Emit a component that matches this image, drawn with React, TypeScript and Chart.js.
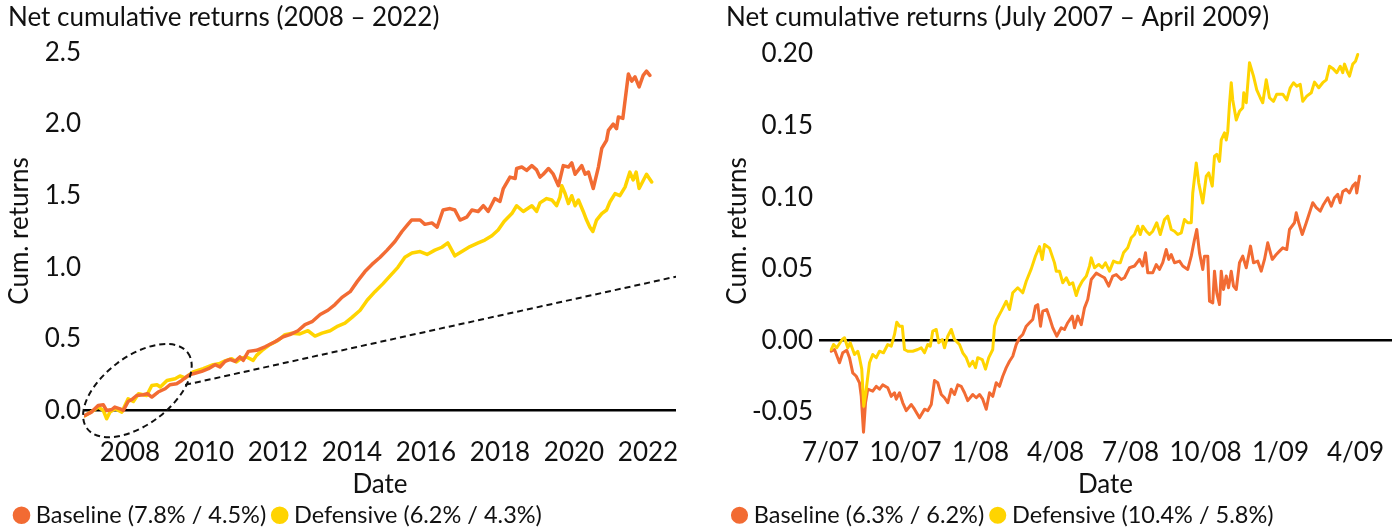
import { useEffect, useRef } from 'react';
import { Chart, registerables } from 'chart.js';

Chart.register(...registerables);

const FONT = 'Lato, "Liberation Sans", sans-serif';
const TEXT = '#111111';
const ORANGE = '#F26B33';
const YELLOW = '#FFD400';

// ---------------- Left chart (2008 – 2022) ----------------
const leftTitle = 'Net cumulative returns (2008 – 2022)';
const leftLegend = ['Baseline (7.8% / 4.5%)', 'Defensive (6.2% / 4.3%)'];
const leftYearTicks = [2008, 2010, 2012, 2014, 2016, 2018, 2020, 2022];
const leftValueTicks = [0, 0.5, 1, 1.5, 2, 2.5];

const leftBaselineYears = [
  2006.78, 2006.96, 2007.14, 2007.28, 2007.37, 2007.51, 2007.59, 2007.73, 2007.82, 2007.95,
  2008.05, 2008.18, 2008.36, 2008.47, 2008.59, 2008.76, 2008.95, 2009.08, 2009.26, 2009.4,
  2009.58, 2009.71, 2009.94, 2010.12, 2010.3, 2010.43, 2010.57, 2010.7, 2010.84, 2010.97,
  2011.06, 2011.2, 2011.42, 2011.65, 2011.92, 2012.14, 2012.32, 2012.54, 2012.73, 2012.92,
  2013.14, 2013.35, 2013.54, 2013.73, 2013.95, 2014.14, 2014.35, 2014.54, 2014.76, 2014.95,
  2015.16, 2015.35, 2015.51, 2015.61, 2015.84, 2015.97, 2016.16, 2016.3, 2016.46, 2016.65,
  2016.78, 2016.92, 2017.1, 2017.24, 2017.41, 2017.55, 2017.68, 2017.86, 2018.0, 2018.09,
  2018.27, 2018.41, 2018.45, 2018.59, 2018.72, 2018.86, 2018.99, 2019.08, 2019.17, 2019.31,
  2019.44, 2019.58, 2019.71, 2019.85, 2019.94, 2020.03, 2020.21, 2020.3, 2020.39, 2020.52,
  2020.66, 2020.75, 2020.88, 2020.93, 2021.06, 2021.15, 2021.2, 2021.32, 2021.47, 2021.56,
  2021.65, 2021.76, 2021.87, 2021.96, 2022.05,
];
const leftBaselineValues = [
  -0.035, -0.011, 0.035, 0.04, 0.0, 0.007, 0.024, 0.012, 0.0, 0.063,
  0.077, 0.105, 0.11, 0.117, 0.094, 0.129, 0.152, 0.18, 0.187, 0.21,
  0.245, 0.257, 0.273, 0.292, 0.32, 0.304, 0.343, 0.357, 0.343, 0.374,
  0.35, 0.413, 0.42, 0.445, 0.48, 0.515, 0.53, 0.557, 0.6, 0.62,
  0.67, 0.7, 0.74, 0.79, 0.83, 0.9, 0.97, 1.02, 1.07, 1.12,
  1.18, 1.25, 1.3, 1.33, 1.33, 1.3, 1.31, 1.28, 1.4, 1.41,
  1.4, 1.33, 1.35, 1.4, 1.39, 1.43, 1.39, 1.48, 1.46, 1.55,
  1.63, 1.62, 1.69, 1.7, 1.677, 1.71, 1.68, 1.63, 1.65, 1.69,
  1.65, 1.57, 1.71, 1.7, 1.73, 1.65, 1.71, 1.65, 1.665, 1.55,
  1.7, 1.83, 1.886, 1.956, 2.0, 1.968, 2.05, 2.04, 2.35, 2.3,
  2.33, 2.26, 2.34, 2.37, 2.34,
];

const leftDefensiveYears = [
  2006.78, 2007.01, 2007.14, 2007.28, 2007.37, 2007.46, 2007.59, 2007.78, 2007.95, 2008.09,
  2008.23, 2008.45, 2008.59, 2008.73, 2008.82, 2009.0, 2009.22, 2009.35, 2009.49, 2009.58,
  2009.71, 2009.98, 2010.25, 2010.43, 2010.57, 2010.75, 2010.88, 2011.02, 2011.15, 2011.33,
  2011.42, 2011.57, 2011.78, 2012.0, 2012.19, 2012.38, 2012.59, 2012.81, 2013.0, 2013.19,
  2013.41, 2013.62, 2013.81, 2014.0, 2014.22, 2014.41, 2014.62, 2014.84, 2015.03, 2015.24,
  2015.43, 2015.62, 2015.84, 2016.03, 2016.24, 2016.43, 2016.59, 2016.78, 2016.97, 2017.19,
  2017.41, 2017.59, 2017.78, 2017.95, 2018.11, 2018.32, 2018.45, 2018.63, 2018.86, 2018.99,
  2019.08, 2019.26, 2019.4, 2019.53, 2019.62, 2019.67, 2019.76, 2019.85, 2019.94, 2020.03,
  2020.12, 2020.25, 2020.34, 2020.43, 2020.51, 2020.61, 2020.75, 2020.88, 2020.97, 2021.11,
  2021.24, 2021.38, 2021.51, 2021.6, 2021.68, 2021.76, 2021.96, 2022.1,
];
const leftDefensiveValues = [
  -0.037, 0.0, 0.024, 0.0, -0.058, -0.011, 0.012, -0.011, 0.082, 0.063,
  0.117, 0.105, 0.175, 0.18, 0.164, 0.21, 0.222, 0.241, 0.227, 0.245,
  0.269, 0.292, 0.32, 0.329, 0.346, 0.362, 0.339, 0.367, 0.374, 0.35,
  0.385, 0.42, 0.46, 0.49, 0.53, 0.54, 0.535, 0.557, 0.52, 0.54,
  0.557, 0.59, 0.61, 0.65, 0.7, 0.77, 0.83, 0.886, 0.94, 1.0,
  1.07, 1.1, 1.11, 1.09, 1.12, 1.14, 1.17, 1.08, 1.11, 1.145,
  1.17, 1.19, 1.22, 1.26, 1.32, 1.375, 1.43, 1.39, 1.43, 1.39,
  1.45, 1.48, 1.47, 1.43, 1.49, 1.57, 1.515, 1.445, 1.5, 1.43,
  1.47, 1.39, 1.33, 1.28, 1.25, 1.33, 1.375, 1.4, 1.456, 1.515,
  1.5, 1.56, 1.665, 1.61, 1.665, 1.55, 1.65, 1.596,
];

const leftTrendYears = [2009.49, 2022.76];
const leftTrendValues = [0.179, 0.935];
// centre of the dashed highlight ellipse, in data units
const leftHighlightYear = 2008.2;
const leftHighlightValue = 0.139;

// ---------------- Right chart (July 2007 – April 2009) ----------------
// x = months since January 2007 (6 = July 2007)
const rightTitle = 'Net cumulative returns (July 2007 – April 2009)';
const rightLegend = ['Baseline (6.3% / 6.2%)', 'Defensive (10.4% / 5.8%)'];
const rightMonthTicks = [6, 9, 12, 15, 18, 21, 24, 27];
const rightMonthLabels = ['7/07', '10/07', '1/08', '4/08', '7/08', '10/08', '1/09', '4/09'];
const rightValueTicks = [-0.05, 0, 0.05, 0.1, 0.15, 0.2];

const rightBaselineMonths = [
  6.03, 6.16, 6.36, 6.49, 6.65, 6.76, 6.89, 7.03, 7.16, 7.23,
  7.32, 7.4, 7.49, 7.69, 7.83, 7.96, 8.09, 8.29, 8.43, 8.56,
  8.63, 8.76, 8.89, 9.03, 9.23, 9.36, 9.56, 9.76, 9.89, 10.03,
  10.16, 10.29, 10.43, 10.56, 10.69, 10.83, 10.96, 11.09, 11.23, 11.36,
  11.49, 11.69, 11.83, 11.96, 12.09, 12.23, 12.36, 12.49, 12.63, 12.76,
  12.89, 13.03, 13.16, 13.29, 13.43, 13.56, 13.69, 13.83, 13.96, 14.09,
  14.2, 14.29, 14.4, 14.49, 14.65, 14.76, 14.89, 15.05, 15.23, 15.36,
  15.49, 15.67, 15.76, 15.89, 16.03, 16.16, 16.29, 16.43, 16.63, 16.83,
  16.96, 17.13, 17.29, 17.43, 17.63, 17.76, 17.96, 18.16, 18.36, 18.49,
  18.6, 18.69, 18.89, 19.03, 19.16, 19.29, 19.43, 19.53, 19.63, 19.76,
  19.96, 20.09, 20.29, 20.43, 20.56, 20.65, 20.76, 20.89, 20.96, 21.09,
  21.16, 21.29, 21.36, 21.45, 21.56, 21.63, 21.72, 21.83, 21.92, 22.03,
  22.12, 22.23, 22.36, 22.49, 22.63, 22.8, 22.92, 23.09, 23.23, 23.36,
  23.49, 23.67, 23.83, 23.96, 24.09, 24.25, 24.36, 24.56, 24.63, 24.73,
  24.87, 25.03, 25.16, 25.29, 25.43, 25.59, 25.72, 25.89, 26.03, 26.16,
  26.29, 26.39, 26.49, 26.63, 26.76, 26.89, 27.0, 27.05, 27.16,
];
const rightBaselineValues = [
  -0.0075, -0.0063, -0.0156, -0.0086, -0.0068, -0.012, -0.0226, -0.025, -0.0296, -0.039,
  -0.064, -0.0435, -0.034, -0.0354, -0.032, -0.034, -0.031, -0.033, -0.039, -0.0365,
  -0.041, -0.0365, -0.0435, -0.049, -0.0447, -0.048, -0.054, -0.048, -0.049, -0.0447,
  -0.028, -0.0295, -0.0377, -0.04, -0.0435, -0.034, -0.0377, -0.031, -0.032, -0.0365,
  -0.042, -0.0377, -0.04, -0.0377, -0.041, -0.048, -0.0365, -0.039, -0.0295, -0.032,
  -0.025, -0.019, -0.0145, -0.011, -0.0028, 0.0019, 0.0042, 0.01, 0.0124, 0.0147,
  0.024, 0.025, 0.01, 0.0205, 0.0216, 0.016, 0.0089, 0.003, 0.0089, 0.0077,
  0.0124, 0.017, 0.0089, 0.017, 0.011, 0.0228, 0.0286, 0.0426, 0.047, 0.045,
  0.0438, 0.038, 0.045, 0.046, 0.0426, 0.0438, 0.0508, 0.052, 0.0566, 0.052,
  0.0612, 0.0473, 0.0473, 0.053, 0.0496, 0.0543, 0.0635, 0.0566, 0.06, 0.0543,
  0.0554, 0.052, 0.0496, 0.0589, 0.0705, 0.0775, 0.0612, 0.0496, 0.0589, 0.0589,
  0.0274, 0.0263, 0.0484, 0.0333, 0.0251, 0.0484, 0.0356, 0.045, 0.0368, 0.0484,
  0.038, 0.0356, 0.0543, 0.0589, 0.0508, 0.0659, 0.0543, 0.0554, 0.0484, 0.0566,
  0.0682, 0.0566, 0.06, 0.0624, 0.0647, 0.0635, 0.0775, 0.0822, 0.0892, 0.0822,
  0.074, 0.0822, 0.0892, 0.0962, 0.0927, 0.0903, 0.095, 0.0997, 0.0938, 0.0997,
  0.102, 0.0962, 0.104, 0.1055, 0.103, 0.108, 0.11, 0.103, 0.1147,
];

const rightDefensiveMonths = [
  6.03, 6.12, 6.25, 6.47, 6.56, 6.69, 6.79, 6.96, 7.09, 7.16,
  7.25, 7.33, 7.43, 7.56, 7.69, 7.83, 7.96, 8.12, 8.29, 8.43,
  8.56, 8.65, 8.76, 8.87, 8.96, 9.09, 9.29, 9.49, 9.63, 9.76,
  9.89, 9.99, 10.09, 10.23, 10.33, 10.47, 10.56, 10.69, 10.83, 10.96,
  11.16, 11.29, 11.43, 11.56, 11.69, 11.8, 11.89, 12.07, 12.2, 12.33,
  12.49, 12.56, 12.65, 12.83, 13.03, 13.16, 13.29, 13.49, 13.69, 13.83,
  14.03, 14.2, 14.36, 14.47, 14.56, 14.76, 14.96, 15.03, 15.16, 15.29,
  15.43, 15.56, 15.69, 15.83, 15.93, 16.07, 16.23, 16.36, 16.43, 16.56,
  16.73, 16.87, 17.0, 17.16, 17.32, 17.49, 17.59, 17.72, 17.89, 18.03,
  18.16, 18.29, 18.39, 18.49, 18.63, 18.76, 18.89, 19.05, 19.19, 19.36,
  19.49, 19.63, 19.76, 19.89, 20.03, 20.16, 20.29, 20.43, 20.49, 20.63,
  20.73, 20.89, 21.03, 21.13, 21.27, 21.36, 21.45, 21.56, 21.63, 21.76,
  21.83, 21.89, 21.96, 22.03, 22.09, 22.23, 22.36, 22.49, 22.53, 22.63,
  22.76, 22.92, 23.05, 23.19, 23.29, 23.43, 23.56, 23.72, 23.85, 24.09,
  24.25, 24.39, 24.52, 24.65, 24.79, 24.89, 25.05, 25.23, 25.36, 25.53,
  25.69, 25.83, 25.96, 26.09, 26.25, 26.39, 26.49, 26.56, 26.69, 26.76,
  26.89, 27.0, 27.09,
];
const rightDefensiveValues = [
  -0.0063, -0.0028, -0.0051, 0.0007, 0.0019, -0.0051, -0.0016, -0.0098, -0.0075, -0.012,
  -0.02, -0.046, -0.034, -0.0156, -0.0098, -0.012, -0.0075, -0.0086, -0.0028, -0.004,
  0.0042, 0.0128, 0.01, 0.01, -0.0063, -0.0075, -0.0075, -0.0063, -0.0051, -0.0086,
  -0.0028, -0.004, 0.0065, 0.0077, -0.0016, 0.0007, -0.0051, 0.003, 0.0077, 0.0007,
  -0.0028, -0.0086, -0.012, -0.018, -0.0145, -0.019, -0.012, -0.0133, -0.02, -0.012,
  -0.0063, 0.01, 0.0147, 0.0205, 0.0274, 0.0216, 0.0333, 0.0368, 0.0333, 0.0414,
  0.05, 0.059, 0.0655, 0.0566, 0.067, 0.0645, 0.0542, 0.0484, 0.0484, 0.0403,
  0.0438, 0.0391, 0.0403, 0.0314, 0.0368, 0.0414, 0.0449, 0.0519, 0.0577, 0.0508,
  0.0531, 0.0508, 0.0542, 0.0484, 0.0554, 0.0542, 0.0542, 0.0612, 0.0647, 0.0717,
  0.074, 0.0798, 0.074, 0.0798, 0.0763, 0.074, 0.0763, 0.0822, 0.074, 0.0845,
  0.0868, 0.0775, 0.0763, 0.074, 0.0752, 0.0845, 0.0822, 0.0822, 0.103, 0.124,
  0.11, 0.096, 0.1147, 0.117, 0.1078, 0.1287, 0.13, 0.125, 0.14, 0.145,
  0.14, 0.146, 0.165, 0.18, 0.168, 0.154, 0.16, 0.1625, 0.173, 0.166,
  0.194, 0.1846, 0.175, 0.1695, 0.166, 0.182, 0.1695, 0.167, 0.172, 0.172,
  0.168, 0.1765, 0.18, 0.1776, 0.1788, 0.167, 0.1706, 0.173, 0.1804, 0.1765,
  0.18, 0.182, 0.1915, 0.19, 0.187, 0.1915, 0.187, 0.193, 0.187, 0.1846,
  0.193, 0.195, 0.1997,
];

const toPoints = (xs: number[], ys: number[]) => xs.map((x, i) => ({ x, y: ys[i] }));

const highlightPlugin = {
  id: 'highlight',
  afterDatasetsDraw(chart: any) {
    const { ctx, scales } = chart;
    const cx = scales.x.getPixelForValue(leftHighlightYear);
    const cy = scales.y.getPixelForValue(leftHighlightValue);
    ctx.save();
    ctx.beginPath();
    ctx.setLineDash([6, 4]);
    ctx.lineWidth = 2;
    ctx.strokeStyle = TEXT;
    ctx.ellipse(cx, cy, 63, 34, (-37 * Math.PI) / 180, 0, Math.PI * 2);
    ctx.stroke();
    ctx.restore();
  },
};

type Spec = {
  title: string;
  datasets: any[];
  xMin: number;
  xMax: number;
  xTicks: number[];
  xLabel: (v: number) => string;
  yMin: number;
  yMax: number;
  yTicks: number[];
  yLabel: (v: number) => string;
  yAxisWidth: number;
  yTickPadding: number;
  padRight: number;
  plugins: any[];
};

function buildConfig(s: Spec): any {
  return {
    type: 'line',
    data: { datasets: s.datasets },
    plugins: s.plugins,
    options: {
      responsive: false,
      maintainAspectRatio: false,
      animation: false,
      devicePixelRatio: 1,
      events: [],
      layout: { padding: { left: 8, right: s.padRight, top: 0, bottom: 0 } },
      scales: {
        x: {
          type: 'linear',
          min: s.xMin,
          max: s.xMax,
          afterBuildTicks: (axis: any) => {
            axis.ticks = s.xTicks.map((v) => ({ value: v }));
          },
          afterFit: (axis: any) => {
            axis.height = 55.5;
          },
          grid: { display: false, drawTicks: false },
          border: { display: false },
          ticks: {
            padding: 0,
            autoSkip: false,
            maxRotation: 0,
            color: TEXT,
            font: { size: 26 },
            callback: (v: any) => s.xLabel(Number(v)),
          },
          title: {
            display: true,
            text: 'Date',
            color: TEXT,
            font: { size: 26 },
            padding: { top: 0, bottom: -8 },
          },
        },
        y: {
          type: 'linear',
          min: s.yMin,
          max: s.yMax,
          afterBuildTicks: (axis: any) => {
            axis.ticks = s.yTicks.map((v) => ({ value: v }));
          },
          afterFit: (axis: any) => {
            axis.width = s.yAxisWidth;
          },
          grid: {
            drawTicks: false,
            lineWidth: 2.5,
            color: (ctx: any) =>
              ctx.tick && Math.abs(ctx.tick.value) < 1e-9 ? '#000000' : 'rgba(0,0,0,0)',
          },
          border: { display: false },
          ticks: {
            padding: s.yTickPadding,
            color: TEXT,
            font: { size: 26 },
            callback: (v: any) => s.yLabel(Number(v)),
          },
          title: {
            display: true,
            text: 'Cum. returns',
            color: TEXT,
            font: { size: 26 },
            padding: { top: -3.6, bottom: 0 },
          },
        },
      },
      plugins: {
        title: {
          display: true,
          text: s.title,
          align: 'start',
          color: TEXT,
          font: { size: 26, weight: 'normal' },
          padding: { top: 2.4, bottom: -8.6 },
        },
        legend: {
          display: true,
          position: 'bottom',
          align: 'start',
          maxHeight: 34.5,
          labels: {
            usePointStyle: true,
            pointStyle: 'circle',
            boxWidth: 5,
            boxHeight: 10,
            padding: 11,
            color: TEXT,
            font: { size: 23.5 },
            filter: (item: any) => item.datasetIndex < 2,
            sort: (a: any, b: any) => a.datasetIndex - b.datasetIndex,
          },
        },
        tooltip: { enabled: false },
      },
    },
  };
}

function seriesDataset(label: string, color: string, points: any[], width: number, order: number) {
  return {
    label,
    data: points,
    borderColor: color,
    backgroundColor: color,
    borderWidth: width,
    pointRadius: 0,
    tension: 0,
    borderJoinStyle: 'round',
    borderCapStyle: 'round',
    order,
  };
}

export default function App() {
  const leftRef = useRef<HTMLCanvasElement>(null);
  const rightRef = useRef<HTMLCanvasElement>(null);

  useEffect(() => {
    Chart.defaults.font.family = FONT;
    Chart.defaults.color = TEXT;

    const left = new Chart(
      leftRef.current as HTMLCanvasElement,
      buildConfig({
        title: leftTitle,
        datasets: [
          seriesDataset(leftLegend[0], ORANGE, toPoints(leftBaselineYears, leftBaselineValues), 3.5, 0),
          seriesDataset(leftLegend[1], YELLOW, toPoints(leftDefensiveYears, leftDefensiveValues), 3.5, 1),
          {
            label: 'trend',
            data: toPoints(leftTrendYears, leftTrendValues),
            borderColor: TEXT,
            backgroundColor: TEXT,
            borderWidth: 2,
            borderDash: [6, 4],
            pointRadius: 0,
            order: 2,
          },
        ],
        xMin: 2006.757,
        xMax: 2022.757,
        xTicks: leftYearTicks,
        xLabel: (v) => String(v),
        yMin: -0.185,
        yMax: 2.692,
        yTicks: leftValueTicks,
        yLabel: (v) => v.toFixed(1),
        yAxisWidth: 76,
        yTickPadding: 3,
        padRight: 42,
        plugins: [highlightPlugin],
      })
    );

    const right = new Chart(
      rightRef.current as HTMLCanvasElement,
      buildConfig({
        title: rightTitle,
        datasets: [
          seriesDataset(rightLegend[0], ORANGE, toPoints(rightBaselineMonths, rightBaselineValues), 3, 1),
          seriesDataset(rightLegend[1], YELLOW, toPoints(rightDefensiveMonths, rightDefensiveValues), 3, 0),
        ],
        xMin: 5.54,
        xMax: 28.46,
        xTicks: rightMonthTicks,
        xLabel: (v) => rightMonthLabels[rightMonthTicks.indexOf(v)] ?? '',
        yMin: -0.0674,
        yMax: 0.2203,
        yTicks: rightValueTicks,
        yLabel: (v) => v.toFixed(2),
        yAxisWidth: 93,
        yTickPadding: 6,
        padRight: 5,
        plugins: [],
      })
    );

    return () => {
      left.destroy();
      right.destroy();
    };
  }, []);

  return (
    <div
      style={{
        position: 'absolute',
        left: 0,
        top: 0,
        width: 1397,
        height: 527,
        background: '#ffffff',
        overflow: 'hidden',
      }}
    >
      <canvas
        ref={leftRef}
        width={718}
        height={527}
        style={{ position: 'absolute', left: 0, top: 0, width: 718, height: 527 }}
      />
      <canvas
        ref={rightRef}
        width={679}
        height={527}
        style={{ position: 'absolute', left: 718, top: 0, width: 679, height: 527 }}
      />
    </div>
  );
}
